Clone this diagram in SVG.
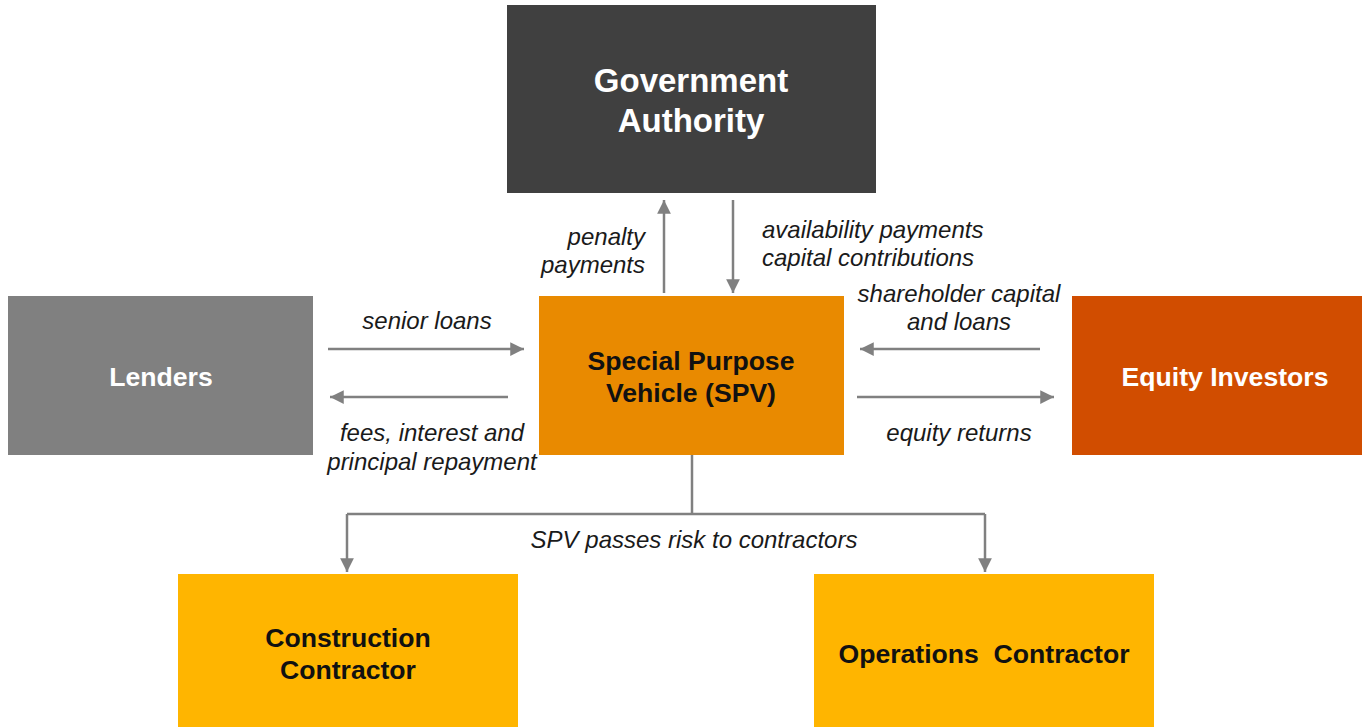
<svg xmlns="http://www.w3.org/2000/svg" width="1362" height="727" viewBox="0 0 1362 727">
<style>
.t{font-family:"Liberation Sans",Arial,sans-serif;font-weight:bold;text-anchor:middle;font-size:26.6px}
.g{font-size:33px}
.l{font-family:"Liberation Sans",Arial,sans-serif;font-style:italic;font-size:24px;fill:#1a1a1a}
.c{stroke:#808080;stroke-width:2.5;fill:none}
</style>
<defs>
<marker id="ah" viewBox="0 0 10 10" refX="10" refY="5" markerWidth="5.5" markerHeight="5.5" markerUnits="strokeWidth" orient="auto">
<path d="M0,0 L10,5 L0,10 Z" fill="#808080"/>
</marker>
</defs>
<rect width="1362" height="727" fill="#fff"/>
<g id="gov"><rect x="507" y="5" width="369" height="188" fill="#404040"/>
<text class="t g" x="691" y="92" fill="#fff">Government</text>
<text class="t g" x="691" y="132" fill="#fff">Authority</text></g>
<g id="lenders"><rect x="8" y="296" width="305" height="159" fill="#808080"/>
<text class="t" x="161" y="386" fill="#fff">Lenders</text></g>
<g id="spv"><rect x="539" y="296" width="305" height="159" fill="#E98A00"/>
<text class="t" x="691" y="370" fill="#111">Special Purpose</text>
<text class="t" x="691" y="402" fill="#111">Vehicle (SPV)</text></g>
<g id="equity"><rect x="1072" y="296" width="290" height="159" fill="#D14D00"/>
<text class="t" x="1225" y="386" fill="#fff">Equity Investors</text></g>
<g id="construction"><rect x="178" y="574" width="340" height="153" fill="#FFB500"/>
<text class="t" x="348" y="647" fill="#111">Construction</text>
<text class="t" x="348" y="679" fill="#111">Contractor</text></g>
<g id="operations"><rect x="814" y="574" width="340" height="153" fill="#FFB500"/>
<text class="t" x="984" y="663" fill="#111" xml:space="preserve">Operations  Contractor</text></g>
<g id="connectors">
<line class="c" x1="664" y1="293" x2="664" y2="200" marker-end="url(#ah)"/>
<line class="c" x1="733" y1="200" x2="733" y2="293" marker-end="url(#ah)"/>
<line class="c" x1="328" y1="349" x2="524" y2="349" marker-end="url(#ah)"/>
<line class="c" x1="508" y1="397" x2="330" y2="397" marker-end="url(#ah)"/>
<line class="c" x1="1040" y1="349" x2="860" y2="349" marker-end="url(#ah)"/>
<line class="c" x1="857" y1="397" x2="1054" y2="397" marker-end="url(#ah)"/>
<polyline class="c" points="692,455 692,514"/>
<polyline class="c" points="347,514 985,514"/>
<line class="c" x1="347" y1="514" x2="347" y2="572" marker-end="url(#ah)"/>
<line class="c" x1="985" y1="514" x2="985" y2="572" marker-end="url(#ah)"/>
</g>
<g id="labels">
<text class="l" x="645" y="245" text-anchor="end">penalty</text>
<text class="l" x="645" y="273" text-anchor="end">payments</text>
<text class="l" x="762" y="238">availability payments</text>
<text class="l" x="762" y="266">capital contributions</text>
<text class="l" x="427" y="329" text-anchor="middle">senior loans</text>
<text class="l" x="432" y="441" text-anchor="middle">fees, interest and</text>
<text class="l" x="432" y="470" text-anchor="middle">principal repayment</text>
<text class="l" x="959" y="302" text-anchor="middle">shareholder capital</text>
<text class="l" x="959" y="330" text-anchor="middle">and loans</text>
<text class="l" x="959" y="441" text-anchor="middle">equity returns</text>
<text class="l" x="694" y="548" text-anchor="middle">SPV passes risk to contractors</text>
</g>
</svg>
